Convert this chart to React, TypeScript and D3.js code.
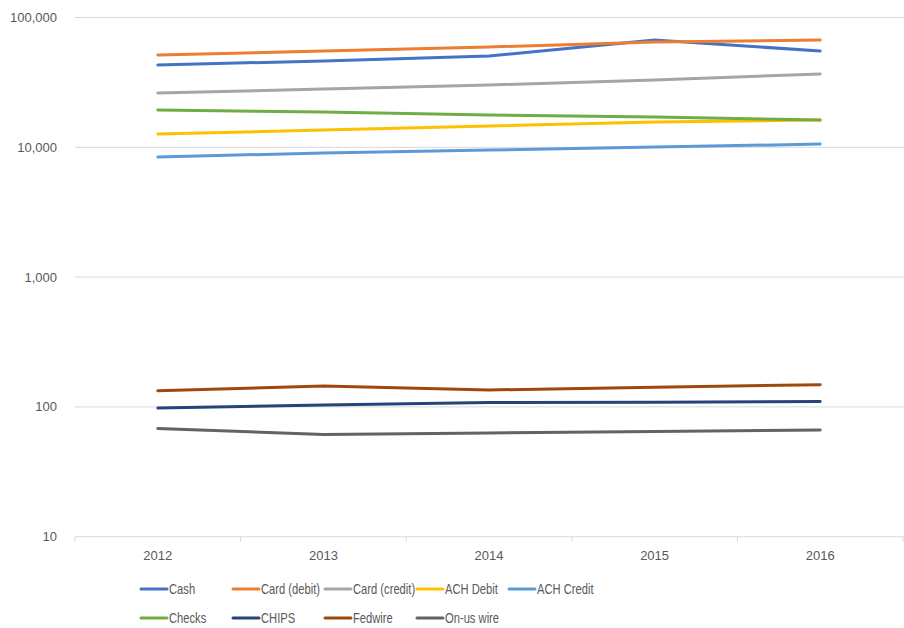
import React from "react";
import * as d3 from "d3";

const years = ["2012", "2013", "2014", "2015", "2016"];
const yTicks = [10, 100, 1000, 10000, 100000];

const cash = [43000, 46300, 50500, 67100, 55200];
const cardDebit = [51400, 55200, 59300, 64700, 67100];
const cardCredit = [26200, 28100, 30200, 33000, 36700];
const achDebit = [12650, 13580, 14600, 15660, 16200];
const achCredit = [8420, 9040, 9530, 10040, 10590];
const checks = [19380, 18700, 17740, 17120, 16200];
const chips = [98, 103.5, 108, 108.5, 110];
const fedwire = [133, 145, 135, 142, 148];
const onUsWire = [68.3, 61.3, 62.9, 64.5, 66.4];

const series = [
  { name: "Cash", values: cash, color: "#4472C4" },
  { name: "Card (debit)", values: cardDebit, color: "#ED7D31" },
  { name: "Card (credit)", values: cardCredit, color: "#A5A5A5" },
  { name: "ACH Debit", values: achDebit, color: "#FFC000" },
  { name: "ACH Credit", values: achCredit, color: "#5B9BD5" },
  { name: "Checks", values: checks, color: "#70AD47" },
  { name: "CHIPS", values: chips, color: "#264478" },
  { name: "Fedwire", values: fedwire, color: "#9E480E" },
  { name: "On-us wire", values: onUsWire, color: "#636363" },
];

const W = 904;
const H = 628;
const plot = { left: 75, right: 903, top: 17.5, bottom: 536.7 };

export default function App() {
  const x = d3.scaleBand<string>().domain(years).range([plot.left, plot.right]);
  const y = d3.scaleLog().domain([10, 100000]).range([plot.bottom, plot.top]);
  const line = d3
    .line<number>()
    .x((_, i) => (x(years[i]) as number) + x.bandwidth() / 2)
    .y((d) => y(d));
  const fmt = d3.format(",");
  const textColor = "#595959";
  const font = "'Liberation Sans', Arial, sans-serif";

  const boundaries = [...years.map((yr) => x(yr) as number), plot.right];

  return (
    <svg
      width={W}
      height={H}
      style={{ position: "absolute", left: 0, top: 0, background: "#fff" }}
    >
      {yTicks.map((t) => (
        <g key={t}>
          {t > 10 && (
            <line
              x1={plot.left}
              x2={W}
              y1={y(t)}
              y2={y(t)}
              stroke="#d9d9d9"
              strokeWidth={1}
            />
          )}
          <text
            x={57}
            y={y(t)}
            dy="0.35em"
            textAnchor="end"
            fontFamily={font}
            fontSize={13}
            fill={textColor}
          >
            {fmt(t)}
          </text>
        </g>
      ))}
      <line
        x1={plot.left}
        x2={W}
        y1={plot.bottom}
        y2={plot.bottom}
        stroke="#d9d9d9"
        strokeWidth={1}
      />
      {boundaries.map((b, i) => (
        <line
          key={i}
          x1={b}
          x2={b}
          y1={plot.bottom}
          y2={plot.bottom + 5}
          stroke="#d9d9d9"
          strokeWidth={1}
        />
      ))}
      {years.map((yr) => (
        <text
          key={yr}
          x={(x(yr) as number) + x.bandwidth() / 2}
          y={560}
          textAnchor="middle"
          fontFamily={font}
          fontSize={13}
          fill={textColor}
        >
          {yr}
        </text>
      ))}
      {series.map((s) => (
        <path
          key={s.name}
          d={line(s.values) as string}
          fill="none"
          stroke={s.color}
          strokeWidth={3}
          strokeLinecap="round"
          strokeLinejoin="round"
        />
      ))}
      {series.map((s, i) => {
        const row = i < 5 ? 0 : 1;
        const col = i < 5 ? i : i - 5;
        const lx = 141 + col * 92;
        const ly = row === 0 ? 589 : 618;
        return (
          <g key={s.name}>
            <line
              x1={lx}
              x2={lx + 26}
              y1={ly}
              y2={ly}
              stroke={s.color}
              strokeWidth={3}
              strokeLinecap="round"
            />
            <text
              transform={`translate(${lx + 28},${ly}) scale(0.8,1)`}
              dy="0.35em"
              fontFamily={font}
              fontSize={14}
              fill={textColor}
            >
              {s.name}
            </text>
          </g>
        );
      })}
    </svg>
  );
}
